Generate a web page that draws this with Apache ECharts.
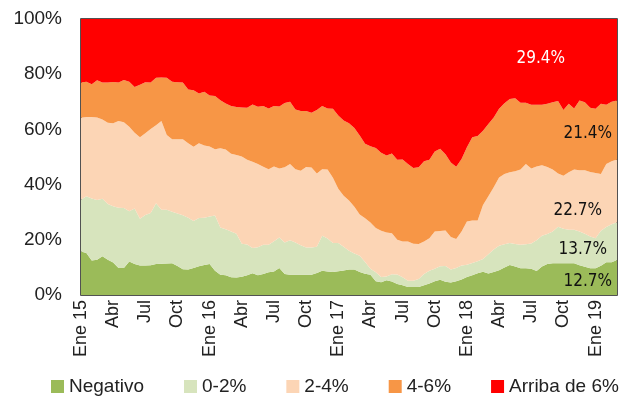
<!DOCTYPE html>
<html>
<head>
<meta charset="utf-8">
<style>
  html, body { margin: 0; padding: 0; background: #fff; }
  #container { width: 633px; height: 403px; }
</style>
</head>
<body>
<div id="container"></div>
<script src="https://cdn.jsdelivr.net/npm/echarts@6.0.0/dist/echarts.min.js"></script>
<script>
// quarterly tick labels, data is semi-monthly (6 points per quarter)
var tickLabels = ['Ene 15', 'Abr', 'Jul', 'Oct', 'Ene 16', 'Abr', 'Jul', 'Oct',
                  'Ene 17', 'Abr', 'Jul', 'Oct', 'Ene 18', 'Abr', 'Jul', 'Oct', 'Ene 19'];
var seriesNames = ['Negativo', '0-2%', '2-4%', '4-6%', 'Arriba de 6%'];
var endTexts = ['12.7%', '13.7%', '22.7%', '21.4%', '29.4%'];

// cumulative shares (%): upper edge of each band
var topNegativo = [15.8,15.2,12.5,12.8,14.0,12.8,11.8,9.8,9.8,12.1,
  11.2,10.7,10.7,10.8,11.2,11.3,11.4,11.5,10.5,9.3,
  9.2,9.8,10.4,10.9,11.2,8.8,7.3,7.2,6.4,6.3,
  6.6,7.2,7.9,7.2,7.6,8.2,8.5,9.8,7.6,7.3,
  7.3,7.3,7.3,7.3,8.0,8.8,8.5,8.3,8.6,8.9,
  9.2,9.2,8.3,7.7,7.3,5.0,4.6,5.3,4.9,4.0,
  3.5,2.9,2.9,2.9,3.5,4.2,5.0,5.5,4.8,4.5,
  5.0,5.6,6.5,7.2,7.9,8.4,7.8,8.3,9.0,10.0,
  10.9,10.3,9.7,9.7,9.5,8.7,10.3,11.2,11.5,11.5,
  11.5,11.5,11.5,10.8,10.2,9.7,9.7,10.6,11.9,11.9,
  12.7];
var top0a2 = [34.5,35.8,35.0,34.4,34.9,33.0,32.2,31.6,31.5,30.3,
  31.3,27.6,29.0,29.7,33.2,30.9,30.9,30.2,29.5,28.9,
  28.0,26.8,27.9,28.0,28.4,28.8,24.5,23.8,23.0,22.2,
  18.6,18.3,17.0,17.3,18.2,18.2,19.5,20.8,19.0,19.8,
  19.0,18.0,17.2,17.2,17.5,21.5,20.5,18.8,18.8,17.5,
  16.0,15.0,14.2,12.0,9.5,8.2,6.5,6.7,7.5,7.4,
  6.4,5.2,5.2,5.8,7.6,8.8,9.5,10.4,10.5,9.2,
  9.8,10.7,11.0,11.6,12.2,13.0,14.8,16.5,17.8,18.4,
  18.8,18.5,18.2,18.4,18.7,19.8,21.5,22.1,23.0,24.7,
  24.0,23.6,23.6,23.0,22.2,21.2,20.6,23.3,24.6,25.6,
  26.4];
var top2a4 = [64.2,64.5,64.5,64.3,63.6,62.4,62.2,63.0,62.6,61.0,
  58.8,57.2,58.6,60.1,61.5,63.0,58.0,56.4,56.4,56.4,
  55.0,53.7,55.0,54.2,53.8,52.8,53.2,52.7,51.2,50.7,
  50.2,49.0,48.3,47.5,46.5,45.6,46.6,45.8,46.3,47.5,
  45.6,45.0,46.4,46.2,44.0,45.6,45.5,42.5,38.5,36.0,
  34.2,32.0,29.2,27.8,26.3,24.3,23.3,22.6,22.4,20.0,
  19.4,19.4,18.6,18.5,19.4,20.6,23.0,23.2,23.4,21.0,
  20.3,23.0,26.6,27.0,27.0,32.6,35.8,39.0,42.6,43.8,
  44.5,44.8,45.5,47.5,45.8,46.6,47.0,46.4,45.5,44.0,
  43.2,44.5,45.5,45.2,45.2,44.6,44.2,43.8,47.5,48.5,
  49.1];
var top4a6 = [77.0,77.3,76.4,77.8,77.0,77.0,77.2,77.0,77.9,77.3,
  75.4,76.2,77.1,77.0,78.7,78.8,78.7,77.3,77.1,77.0,
  74.5,74.2,73.0,73.6,72.3,72.1,70.6,69.4,68.5,68.1,
  67.9,67.8,69.0,68.2,68.5,67.6,68.5,68.3,69.6,70.0,
  67.2,66.7,66.7,66.0,67.0,68.5,67.6,67.5,65.0,63.2,
  62.2,60.5,57.8,54.8,53.9,53.3,51.5,50.5,51.3,49.0,
  49.1,47.5,46.0,46.3,48.5,49.0,52.0,53.0,51.0,48.0,
  46.5,49.3,53.5,57.2,57.6,59.5,62.0,64.3,67.5,69.5,
  71.0,71.3,69.7,69.7,68.9,68.9,68.9,69.3,69.8,70.3,
  67.0,69.3,67.6,70.5,69.8,67.8,67.5,69.3,68.9,70.0,
  70.5];

var dom = document.getElementById('container');
var myChart = echarts.init(dom, null, { renderer: 'canvas' });

// band thickness per series = difference between consecutive edges
var tops = [topNegativo, top0a2, top2a4, top4a6];
var bands = [];
for (var s = 0; s < 5; s++) {
  var lower = s === 0 ? null : tops[s - 1];
  var upper = s === 4 ? null : tops[s];
  var arr = [];
  for (var i = 0; i < topNegativo.length; i++) {
    var hi = upper ? upper[i] : 100;
    var lo = lower ? lower[i] : 0;
    arr.push(Math.round((hi - lo) * 10) / 10);
  }
  bands.push(arr);
}

var categories = [];
for (var i = 0; i < topNegativo.length; i++) {
  categories.push(i % 6 === 0 ? tickLabels[i / 6] : '');
}

var colors = ['#9BBB59', '#D7E4BD', '#FCD5B5', '#F79646', '#FF0000'];
var labelColors = ['#111', '#111', '#111', '#111', '#fff'];
var labelOffsets = [[-5, 22], [-10, 27], [-15, 51], [-5, 33], [-52, 40]];
var font = 'Liberation Sans';

var series = [];
for (var s = 0; s < 5; s++) {
  series.push({
    name: seriesNames[s],
    type: 'line',
    stack: 'total',
    data: bands[s],
    symbol: 'none',
    showSymbol: false,
    lineStyle: { width: 0 },
    areaStyle: { color: colors[s], opacity: 1 },
    itemStyle: { color: colors[s] },
    endLabel: {
      show: true,
      formatter: endTexts[s],
      color: labelColors[s],
      fontSize: 17,
      fontFamily: "'Liberation Sans Narrow', 'DejaVu Sans Condensed', sans-serif",
      align: 'right',
      verticalAlign: 'middle',
      distance: 0,
      offset: labelOffsets[s]
    },
    emphasis: { disabled: true }
  });
}

var option = {
  animation: false,
  color: colors,
  grid: {
    left: 81, right: 16, top: 19, bottom: 108,
    show: true, borderColor: '#1a1a1a', borderWidth: 1.5
  },
  legend: {
    left: 46, top: 372,
    icon: 'rect',
    itemWidth: 13, itemHeight: 13, itemGap: 40,
    textStyle: { fontSize: 19, color: '#222', fontFamily: font },
    data: seriesNames
  },
  xAxis: {
    type: 'category',
    boundaryGap: false,
    data: categories,
    axisLine: { show: false },
    axisTick: { show: false },
    axisLabel: {
      interval: 5,
      rotate: 90,
      margin: 5,
      fontSize: 18,
      color: '#222',
      fontFamily: font
    },
    splitLine: { show: false }
  },
  yAxis: {
    type: 'value',
    min: 0, max: 100, interval: 20,
    axisLine: { show: false },
    axisTick: { show: false },
    splitLine: { show: false },
    axisLabel: {
      formatter: '{value}%',
      margin: 19,
      fontSize: 19,
      color: '#222',
      fontFamily: font
    }
  },
  series: series
};

myChart.setOption(option);
</script>
</body>
</html>
